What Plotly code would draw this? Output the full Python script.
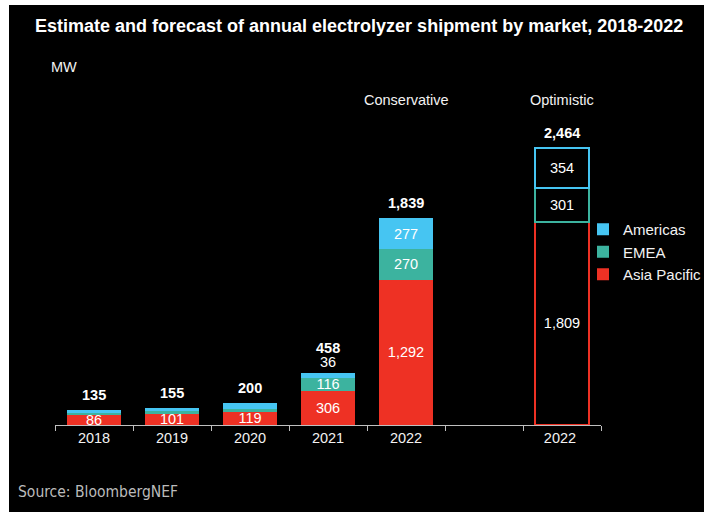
import plotly.graph_objects as go

categories = ["2018", "2019", "2020", "2021", "2022"]
asia_pacific = [86, 101, 119, 306, 1292]
emea = [25, 20, 25, 116, 270]
americas = [24, 34, 56, 36, 277]
totals = [135, 155, 200, 458, 1839]
show_emea_label = [False, False, False, True, True]
show_americas_label = [False, False, False, True, True]

opt_category = "2022 "
gap_category = " "
opt_asia_pacific = 1809
opt_emea = 301
opt_americas = 354
opt_total = 2464

RED = "#EE3124"
TEAL = "#3CB39F"
BLUE = "#46C5F2"
WHITE = "#F2F2F2"
FONT = "Liberation Sans, Arial, sans-serif"

all_cats = categories + [gap_category, opt_category]


def fmt(v):
    return f"{v:,}"


fig = go.Figure()

series = [
    ("Asia Pacific", asia_pacific, RED, [True] * 5, opt_asia_pacific),
    ("EMEA", emea, TEAL, show_emea_label, opt_emea),
    ("Americas", americas, BLUE, show_americas_label, opt_americas),
]

for name, vals, col, show, _ in series:
    # a top segment too thin for its label gets the label just above the bar
    positions = ["outside" if (name == "Americas" and v < 60 and s) else "inside"
                 for v, s in zip(vals, show)]
    fig.add_trace(go.Bar(
        x=categories, y=vals, name=name,
        marker=dict(color=col, line=dict(width=0)),
        text=[fmt(v) if s else "" for v, s in zip(vals, show)],
        textposition=positions, insidetextanchor="middle", textangle=0,
        textfont=dict(color="white", size=14.5, family=FONT),
        outsidetextfont=dict(color="white", size=14.5, family=FONT),
        cliponaxis=False,
        width=0.68, hoverinfo="skip",
    ))

for name, vals, col, show, ov in series:
    fig.add_trace(go.Bar(
        x=[opt_category], y=[ov], name=name, showlegend=False,
        marker=dict(color="black", line=dict(width=2, color=col)),
        text=[fmt(ov)],
        textposition="inside", insidetextanchor="middle", textangle=0,
        textfont=dict(color="white", size=14.5, family=FONT),
        width=0.68, hoverinfo="skip",
    ))

# totals
for c, t in zip(categories + [opt_category], totals + [opt_total]):
    fig.add_annotation(x=all_cats.index(c), xref="x", y=t, yref="y",
                       text=f"<b>{fmt(t)}</b>", showarrow=False,
                       yanchor="middle", yshift=25 if c == "2021" else 15,
                       font=dict(color="white", size=14.5, family=FONT))

fig.add_annotation(x=all_cats.index("2022"), xref="x", y=1, yref="paper", text="Conservative",
                   showarrow=False, yanchor="middle",
                   font=dict(color=WHITE, size=14.5, family=FONT))
fig.add_annotation(x=all_cats.index(opt_category), xref="x", y=1, yref="paper", text="Optimistic",
                   showarrow=False, yanchor="middle",
                   font=dict(color=WHITE, size=14.5, family=FONT))

W, H = 704, 512
L, R, T, B = 55, 103, 100, 87
pw, ph = W - L - R, H - T - B

fig.add_annotation(xref="paper", yref="paper", x=(49 - L) / pw, y=(H - B - 67) / ph,
                   text="MW", showarrow=False, xanchor="left", yanchor="middle",
                   font=dict(color=WHITE, size=14.5, family=FONT))
fig.add_annotation(xref="paper", yref="paper", x=(16 - L) / pw, y=(H - B - 492) / ph,
                   text="Source: BloombergNEF", showarrow=False, xanchor="left", yanchor="middle",
                   font=dict(color="#BBBBBB", size=15.5,
                             family="DejaVu Sans Condensed, DejaVu Sans, sans-serif"))

# white frame strips around black panel
fig.add_shape(type="rect", xref="paper", yref="paper", layer="below",
              x0=(0 - L) / pw, x1=(9 - L) / pw, y0=(H - B - H) / ph, y1=(H - B) / ph,
              fillcolor="white", line=dict(width=0))
fig.add_shape(type="rect", xref="paper", yref="paper", layer="below",
              x0=(0 - L) / pw, x1=(W - L) / pw, y0=(H - B - 5) / ph, y1=(H - B) / ph,
              fillcolor="white", line=dict(width=0))

fig.update_layout(
    width=W, height=H,
    margin=dict(l=L, r=R, t=T, b=B, autoexpand=False),
    paper_bgcolor="black", plot_bgcolor="black",
    barmode="stack",
    uniformtext=dict(minsize=14.5, mode="show"),
    title=dict(text="<b>Estimate and forecast of annual electrolyzer shipment by market, 2018-2022</b>",
               xref="container", yref="container", x=35 / W, y=1 - 26 / H,
               xanchor="left", yanchor="middle",
               font=dict(color="white", size=18, family=FONT)),
    xaxis=dict(type="category", categoryorder="array", categoryarray=all_cats,
               range=[-0.5, len(all_cats) - 0.5],
               showline=True, linecolor="#BFBFBF", linewidth=1,
               ticks="outside", tickson="boundaries", ticklen=5, tickcolor="#BFBFBF",
               tickfont=dict(color=WHITE, size=14.5, family=FONT),
               showgrid=False, zeroline=False, fixedrange=True, automargin=False),
    yaxis=dict(range=[0, 2889], visible=False, showgrid=False, zeroline=False, fixedrange=True),
    legend=dict(xref="container", yref="container", x=583 / W, xanchor="left",
                y=1 - 252 / H, yanchor="middle",
                traceorder="reversed", bgcolor="rgba(0,0,0,0)",
                font=dict(color=WHITE, size=15, family=FONT),
                itemwidth=30, tracegroupgap=0),
    showlegend=True,
)

fig.write_html(
    "out.html",
    config={"displayModeBar": False},
    post_script="document.body.style.margin='0';document.body.style.padding='0';"
                "document.documentElement.style.overflow='hidden';",
)
